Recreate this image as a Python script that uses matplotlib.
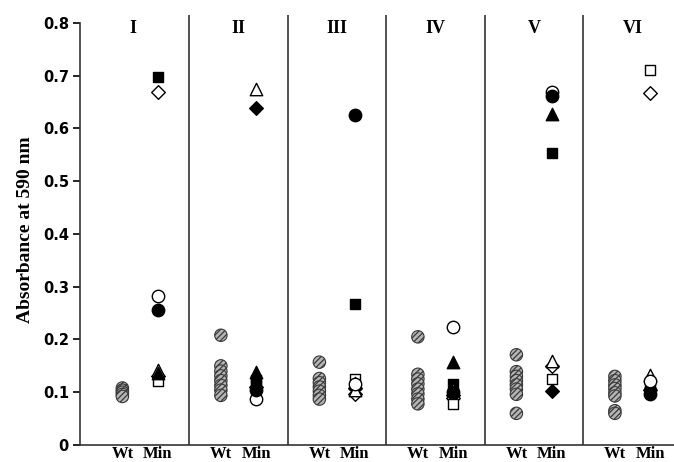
import numpy as np
import matplotlib
matplotlib.use("Agg")
import matplotlib.pyplot as plt

panels = ["I", "II", "III", "IV", "V", "VI"]
group_labels = ["Wt", "Min"]

# wild type (hatched circles), one list per panel
wt_values = [
    [0.108, 0.104, 0.100, 0.096, 0.092],
    [0.208, 0.150, 0.140, 0.131, 0.122, 0.113, 0.104, 0.094],
    [0.157, 0.126, 0.118, 0.110, 0.102, 0.094, 0.087],
    [0.205, 0.134, 0.125, 0.116, 0.106, 0.097, 0.087, 0.078],
    [0.171, 0.139, 0.130, 0.122, 0.114, 0.106, 0.096, 0.060],
    [0.130, 0.122, 0.114, 0.107, 0.099, 0.093, 0.065, 0.060],
]

# Min mice, one value per panel for each symbol
min_filled_circle = [0.255, 0.105, 0.625, 0.100, 0.662, 0.097]
min_open_circle = [0.283, 0.088, 0.115, 0.223, 0.670, 0.122]
min_filled_square = [0.697, 0.118, 0.268, 0.116, 0.554, 0.112]
min_open_square = [0.122, 0.124, 0.126, 0.078, 0.126, 0.710]
min_filled_triangle = [0.136, 0.139, 0.118, 0.157, 0.627, 0.118]
min_open_triangle = [0.142, 0.675, 0.104, 0.107, 0.160, 0.132]
min_filled_diamond = [0.131, 0.638, 0.108, 0.094, 0.103, 0.104]
min_open_diamond = [0.670, 0.110, 0.097, 0.090, 0.149, 0.667]

yticks = [0, 0.1, 0.2, 0.3, 0.4, 0.5, 0.6, 0.7, 0.8]

plt.rcParams["hatch.linewidth"] = 0.9

fig = plt.figure(figsize=(6.74, 4.62), dpi=100)
ax = fig.add_axes([80 / 674, 17 / 462, 594 / 674, 430 / 462])

min_offset = 0.36
n = len(panels)

for i in range(n):
    ax.scatter([i] * len(wt_values[i]), wt_values[i], s=80, marker="o",
               facecolor="#b4b4b4", edgecolor="#3a3a3a", hatch="//////",
               linewidth=0.8, zorder=3)

min_series = [
    (min_open_diamond, "D", "white", 48),
    (min_filled_diamond, "D", "black", 48),
    (min_open_square, "s", "white", 58),
    (min_filled_square, "s", "black", 58),
    (min_open_triangle, "^", "white", 80),
    (min_filled_triangle, "^", "black", 80),
    (min_open_circle, "o", "white", 80),
    (min_filled_circle, "o", "black", 80),
]
xm = np.arange(n) + min_offset
for values, marker, face, size in min_series:
    ax.scatter(xm, values, s=size, marker=marker, facecolor=face,
               edgecolor="black", linewidth=1.0, zorder=4)

# panel separators
for i in range(n - 1):
    ax.axvline(i + 0.68, color="#333333", linewidth=1.2, zorder=1)

for i, name in enumerate(panels):
    ax.text(i + min_offset / 2 - (0.07 if i == 0 else 0), 0.79, name,
            ha="center", va="center",
            fontsize=13, fontweight="bold", family="Liberation Serif")

ax.set_xlim(-0.43, 5.6)
ax.set_ylim(0, 0.815)
ax.set_yticks(yticks)
ax.set_yticklabels(["0"] + [f"{v:.1f}" for v in yticks[1:]],
                   fontsize=10.5, fontweight="bold")
ax.spines["left"].set_bounds(0, 0.8)
ax.spines["top"].set_visible(False)
ax.spines["right"].set_visible(False)
for side in ["left", "bottom"]:
    ax.spines[side].set_linewidth(1.2)
    ax.spines[side].set_color("#333333")
ax.tick_params(axis="y", direction="out", length=5, width=1.2, pad=3)

xt = []
xl = []
for i in range(n):
    xt += [i, i + min_offset]
    xl += group_labels
ax.set_xticks(xt)
ax.set_xticklabels(xl, fontsize=12, fontweight="bold", family="Liberation Serif")
ax.tick_params(axis="x", length=0, pad=0.5)

ax.set_ylabel("Absorbance at 590 nm", fontsize=14, fontweight="bold",
              family="Liberation Serif", labelpad=6)

plt.savefig("out.png", dpi=100)
plt.close()
